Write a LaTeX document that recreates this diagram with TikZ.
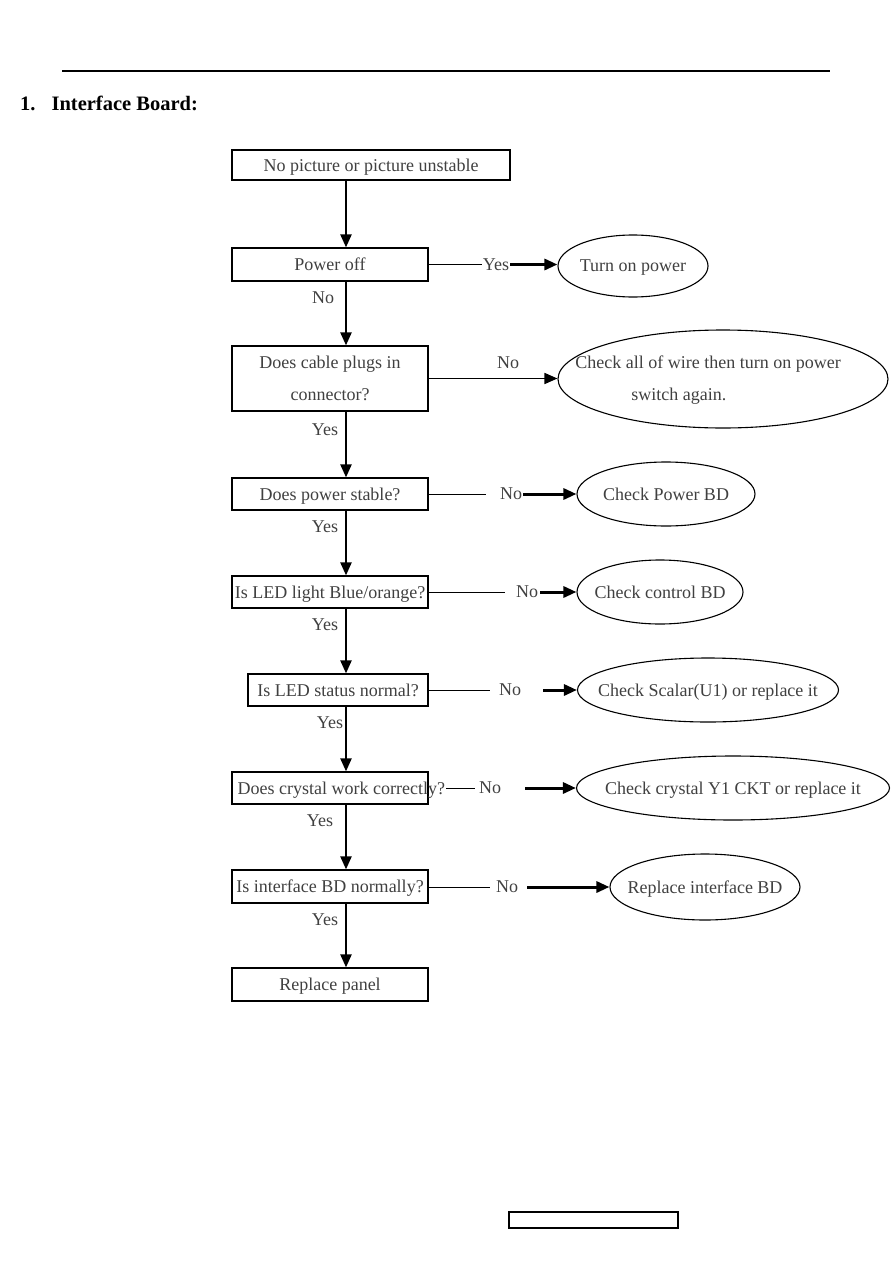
\documentclass[tikz,border=0pt]{standalone}
\usepackage{fontspec}
\setmainfont{Liberation Serif}
\usetikzlibrary{shapes.geometric,arrows.meta}

\tikzset{
  box/.style={draw, line width=1.2pt, minimum width=196pt, minimum height=32pt, inner sep=0pt, text=black!75, text depth=0pt},
  oval/.style={draw, ellipse, line width=1.1pt, inner sep=0pt},
  lbl/.style={text=black!75, inner sep=1pt},
  ovaltxt/.style={lbl, text depth=0pt},
  down/.style={line width=2.2pt, -{Triangle[length=13pt,width=11pt]}},
  side/.style={line width=1pt},
  push/.style={line width=3pt, -{Triangle[length=13pt,width=11pt]}},
}

\begin{document}
\begin{tikzpicture}[x=1pt,y=-1pt,font=\fontsize{18}{22}\selectfont]
  \useasboundingbox (0,0) rectangle (893,1263);
  \draw[line width=1.2pt] (62,71) -- (830,71);
  \node[anchor=base west, inner sep=0pt, font=\fontsize{20.5}{24}\selectfont\bfseries] (title) at (20,110) {1.\hspace{16pt}Interface Board:};

  % main column
  \node[box, minimum width=278pt, minimum height=30pt] (start) at (371,165) {No picture or picture unstable};
  \node[box, minimum height=33pt] (power) at (330,264.5) {Power off};
  \node[box, minimum height=65pt, align=center, font=\fontsize{18}{32}\selectfont] (cable) at (330,378.5) {Does cable plugs in\\connector?};
  \node[box] (stable) at (330,494) {Does power stable?};
  \node[box] (led) at (330,592) {Is LED light Blue/orange?};
  \node[box, minimum width=180pt] (status) at (338,690) {Is LED status normal?};
  \node[box] (crystal) at (330,788) {};
  \node[lbl, anchor=west, text depth=0pt] (crystaltxt) at ([xshift=5pt]crystal.west) {Does crystal work correctly?};
  \node[box, minimum height=33pt] (iface) at (330,886.5) {Is interface BD normally?};
  \node[box, minimum height=33pt] (panel) at (330,984.5) {Replace panel};

  \coordinate (spine) at (346,0);
  \foreach \a/\b in {start/power,power/cable,cable/stable,stable/led,led/status,status/crystal,crystal/iface,iface/panel}
    \draw[down] (\a.south -| spine) -- (\b.north -| spine);

  \node[lbl] (no1) at (323,298) {No};
  \foreach \i/\x/\y in {2/325/430,3/325/527,4/325/625,5/330/723,6/320/821,7/325/920}
    \node[lbl] (yes\i) at (\x,\y) {Yes};

  % outcomes
  \node[oval, minimum width=150pt, minimum height=62pt, label={[ovaltxt]center:Turn on power}] (turnon) at (633,266) {};
  \node[oval, minimum width=330pt, minimum height=98pt] (wire) at (723,379) {};
  \node[lbl, align=left, font=\fontsize{18}{32}\selectfont] (wiretxt) at (708,380) {Check all of wire then turn on power\\\hspace*{56pt}switch again.};
  \node[oval, minimum width=178pt, minimum height=64pt, label={[ovaltxt]center:Check Power BD}] (pwrbd) at (666,494) {};
  \node[oval, minimum width=166pt, minimum height=64pt, label={[ovaltxt]center:Check control BD}] (ctrlbd) at (660,592) {};
  \node[oval, minimum width=261pt, minimum height=64pt, label={[ovaltxt]center:Check Scalar(U1) or replace it}] (scalar) at (708,690) {};
  \node[oval, minimum width=313pt, minimum height=64pt, label={[ovaltxt]center:Check crystal Y1 CKT or replace it}] (xtal) at (733,788) {};
  \node[oval, minimum width=190pt, minimum height=66pt, label={[ovaltxt]center:Replace interface BD}] (replif) at (705,887) {};

  \node[lbl] (yes1) at (496,264.5) {Yes};
  \draw[side] (power.east) -- (yes1.west);
  \draw[push] (yes1.east) -- (yes1.east -| turnon.west);

  \node[lbl] (no2) at (508,363) {No};
  \draw[line width=1.6pt, -{Triangle[length=13pt,width=11pt]}] (cable.east) -- (cable.east -| wire.west);

  \node[lbl] (no3) at (511,494) {No};
  \draw[side, shorten >=13pt] (stable.east) -- (no3.west);
  \draw[push] (no3.east) -- (pwrbd.west);

  \node[lbl] (no4) at (527,592) {No};
  \draw[side, shorten >=10pt] (led.east) -- (no4.west);
  \draw[push, shorten <=1pt] (no4.east) -- (ctrlbd.west);

  \node[lbl] (no5) at (510,690) {No};
  \draw[side, shorten >=8pt] (status.east) -- (no5.west);
  \draw[push, shorten <=21pt] (no5.east) -- (scalar.west);

  \node[lbl] (no6) at (490,788) {No};
  \draw[side, shorten >=3pt] (crystaltxt.east) -- (no6.west);
  \draw[push, shorten <=23pt] (no6.east) -- (xtal.west);

  \node[lbl] (no7) at (507,887) {No};
  \draw[side, shorten >=5pt] (iface.east |- no7) -- (no7.west);
  \draw[push, shorten <=8pt] (no7.east) -- (replif.west);

  \node[draw, line width=1.3pt, minimum width=169pt, minimum height=16pt, inner sep=0pt] (footer) at (593.5,1220) {};
\end{tikzpicture}
\end{document}
